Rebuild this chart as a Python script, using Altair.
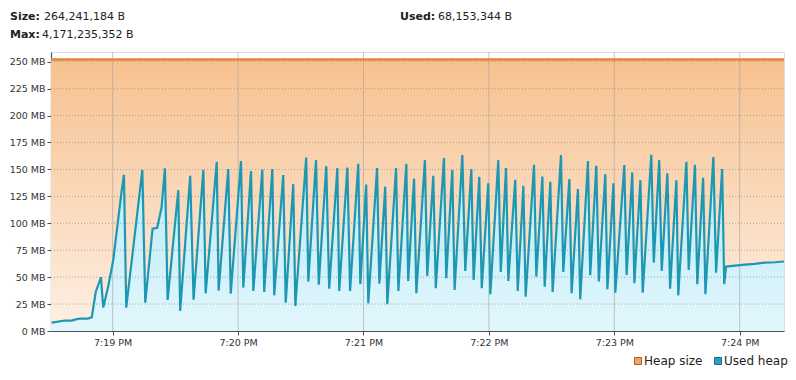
import altair as alt
import pandas as pd
from datetime import datetime, timedelta

BASE = datetime(2024, 1, 1, 19, 18, 0)

# Used heap: seconds after 7:18:00 PM and MB
used_sec = [30.8, 33.2, 35.6, 37.2, 40.4, 42.3, 44.4, 48.0, 50.0, 51.9, 54.4, 55.5, 57.9, 60.3, 64.3, 65.4,
            66.5, 74.2, 75.6, 79.1, 81.3, 83.4, 85.0, 86.3, 91.4, 92.3, 97.1, 98.7, 103.4, 104.5, 109.8, 110.7,
            115.3, 116.5, 121.4, 122.5, 126.2, 127.3, 131.6, 132.5, 136.4, 137.3, 141.6, 142.8, 146.4, 147.4,
            152.6, 153.6, 157.3, 158.6, 162.2, 163.6, 167.5, 168.4, 172.3, 173.6, 177.5, 178.5, 181.3, 182.3,
            186.5, 187.6, 190.4, 191.4, 195.6, 196.7, 200.5, 201.4, 204.2, 205.3, 209.4, 210.5, 213.4, 214.6,
            218.5, 219.6, 222.5, 223.6, 227.3, 228.7, 231.6, 232.7, 235.4, 236.6, 239.7, 240.7, 244.5, 245.7,
            248.2, 249.3, 252.6, 253.8, 256.5, 257.6, 261.6, 262.7, 265.6, 266.7, 269.4, 270.5, 274.5, 275.6,
            278.5, 279.6, 282.6, 283.7, 287.4, 288.5, 291.4, 292.6, 295.7, 296.7, 299.6, 300.5, 304.8, 305.9,
            308.6, 309.6, 312.5, 313.6, 317.7, 318.9, 321.5, 322.7, 325.4, 326.7, 329.7, 330.6, 334.5, 335.6,
            338.6, 339.7, 342.5, 343.6, 347.4, 348.7, 351.6, 352.6, 353.5, 357.8, 362.6, 367.3, 372.1, 376.9,
            381.2]
used_mb = [7.7, 8.4, 9.3, 9.6, 9.6, 10.8, 11.5, 11.5, 12.7, 36.2, 49.9, 21.7, 41.8, 66.0, 130.0, 145.0,
           21.7, 149.6, 26.3, 95.0, 95.7, 114.6, 151.0, 28.8, 130.7, 18.6, 144.0, 29.0, 149.6, 35.0, 157.0, 37.5,
           150.3, 34.7, 157.7, 40.3, 148.4, 37.2, 150.0, 36.2, 150.3, 33.1, 144.7, 26.3, 136.3, 23.2,
           161.0, 45.9, 158.6, 43.0, 153.0, 39.3, 151.2, 37.2, 151.8, 37.2, 155.2, 43.4, 136.0, 25.7,
           151.2, 44.0, 134.1, 24.8, 151.2, 37.2, 155.2, 46.5, 141.6, 35.0, 158.6, 51.1, 144.0, 39.7,
           160.5, 49.0, 149.6, 38.1, 163.3, 55.8, 150.3, 47.4, 143.1, 39.7, 137.2, 34.1, 158.6, 54.8,
           151.2, 46.5, 140.3, 37.2, 134.8, 31.9, 154.3, 50.5, 143.4, 41.2, 138.5, 36.2, 163.3, 54.8,
           141.0, 35.0, 131.7, 29.4, 157.7, 51.7, 153.4, 45.9, 145.6, 38.7, 137.2, 35.6, 154.0, 52.0,
           147.2, 44.3, 140.0, 35.6, 163.6, 63.5, 158.6, 55.8, 146.5, 39.3, 140.0, 33.1, 157.0, 56.7,
           154.3, 43.4, 142.2, 34.1, 161.4, 54.2, 150.3, 43.4, 59.8, 60.7, 61.6, 62.3, 63.5, 63.8,
           64.5]

# Heap size (MB), constant over the window
heap_sec = [30.5, 381.2]
heap_mb = [252.0, 252.0]

y_ticks = [0, 25, 50, 75, 100, 125, 150, 175, 200, 225, 250]
minute_sec = [60, 120, 180, 240, 300, 360]

FONT = "DejaVu Sans"


def ts(s):
    return (BASE + timedelta(seconds=s)).strftime("%Y-%m-%dT%H:%M:%S.%f")[:-3]


def dt(s):
    d = BASE + timedelta(seconds=s)
    return alt.DateTime(year=d.year, month=d.month, date=d.day, hours=d.hour,
                        minutes=d.minute, seconds=d.second, milliseconds=d.microsecond // 1000)


used_df = pd.DataFrame({"t": [ts(s) for s in used_sec], "mb": used_mb})
heap_df = pd.DataFrame({"t": [ts(s) for s in heap_sec], "mb": heap_mb})
ygrid_df = pd.DataFrame({"mb": y_ticks[1:]})
xgrid_df = pd.DataFrame({"t": [ts(s) for s in minute_sec]})
one = pd.DataFrame({"a": [0]})

xscale = alt.Scale(domain=[dt(30.5), dt(381.2)], nice=False)
yscale = alt.Scale(domain=[0, 259], nice=False, zero=True)

AX_COLOR = "#45525b"
x_enc = alt.X("t:T", scale=xscale, title=None,
              axis=alt.Axis(format="%-I:%M %p", values=[dt(s) for s in minute_sec], grid=False,
                            labelFont=FONT, labelFontSize=9.5, labelColor="#333333",
                            tickSize=4, tickColor=AX_COLOR, domainColor=AX_COLOR, domainWidth=1.2,
                            labelPadding=2, labelFlush=False, labelOverlap=False))
y_enc = alt.Y("mb:Q", scale=yscale, title=None,
              axis=alt.Axis(values=y_ticks, labelExpr="datum.value + ' MB'", grid=False,
                            labelFont=FONT, labelFontSize=9.5, labelColor="#333333",
                            tickSize=4, tickColor=AX_COLOR, domainColor=AX_COLOR, domainWidth=1.2,
                            labelPadding=2, labelOverlap=False, labelFlush=False))

heap_area = alt.Chart(heap_df).mark_area(
    color=alt.Gradient(gradient="linear", x1=0, x2=0, y1=0, y2=1,
                       stops=[alt.GradientStop(color="#f7c18f", offset=0),
                              alt.GradientStop(color="#fdf0e4", offset=1)])
).encode(x=x_enc, y=y_enc)

used_area = alt.Chart(used_df).mark_area(
    color=alt.Gradient(gradient="linear", x1=0, x2=0, y1=0, y2=1,
                       stops=[alt.GradientStop(color="#b3eaf8", offset=0),
                              alt.GradientStop(color="#e3f6fc", offset=1)])
).encode(x=x_enc, y=y_enc)

ygrid = alt.Chart(ygrid_df).mark_rule(color="#9a948c", strokeDash=[1, 2], strokeWidth=1, opacity=0.8).encode(
    y=y_enc)
xgrid = alt.Chart(xgrid_df).mark_rule(color="#a0a0a0", strokeWidth=1, opacity=0.6).encode(x=x_enc)

heap_line = alt.Chart(heap_df).mark_line(color="#e3843e", strokeWidth=2.5).encode(x=x_enc, y=y_enc)
used_line = alt.Chart(used_df).mark_line(color="#1e97b3", strokeWidth=2.2).encode(x=x_enc, y=y_enc)


def txt(s, x, y, bold=False, size=11, align="left"):
    return alt.Chart(one).mark_text(text=s, font=FONT, fontSize=size, fontWeight="bold" if bold else "normal",
                                    color="#222222", align=align, baseline="middle").encode(
        x=alt.value(x), y=alt.value(y))


header = [
    txt("Size:", -41, -35, bold=True), txt("264,241,184 B", -7, -35),
    txt("Max:", -41, -17, bold=True), txt("4,171,235,352 B", -9, -17),
    txt("Used:", 349, -35, bold=True), txt("68,153,344 B", 387, -35),
]


def sq(x, y, fill, stroke):
    return alt.Chart(one).mark_square(size=49, fill=fill, stroke=stroke, strokeWidth=1, opacity=1).encode(
        x=alt.value(x), y=alt.value(y))


legend = [
    sq(587, 309, "#f0a45e", "#a8622a"), txt("Heap size", 593, 309, size=12),
    sq(667, 309, "#2a9fc2", "#1b6e88"), txt("Used heap", 673, 309, size=12),
]

chart = alt.layer(heap_area, used_area, ygrid, xgrid, heap_line, used_line, *header, *legend).properties(
    width=733, height=279,
    padding={"left": 43, "top": 44, "right": 4, "bottom": 41},
    autosize=alt.AutoSizeParams(type="none"),
).configure_view(fill="#eef1f4", stroke=None).configure_axis(labelOverlap=False).configure(background="white")

chart.save("out.html", embed_options={"renderer": "svg", "actions": False})
